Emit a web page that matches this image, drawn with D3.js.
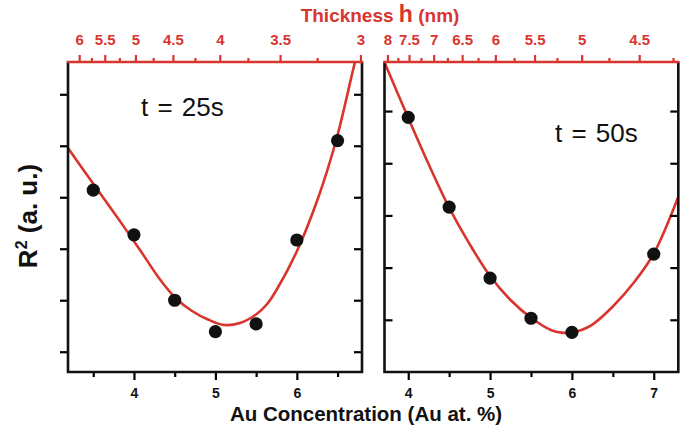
<!DOCTYPE html>
<html><head><meta charset="utf-8">
<script src="https://cdn.jsdelivr.net/npm/d3@7"></script>
<style>body{margin:0;background:#fff}svg{display:block;font-family:"Liberation Sans",Arial,sans-serif}</style>
</head><body><svg id="c" width="685" height="429"></svg>
<script>
// ---- data ----
const concLeft = [3.5, 4, 4.5, 5, 5.5, 6, 6.5];
const r2Left   = [4.14, 3.27, 2.00, 1.39, 1.54, 3.17, 5.10];
const concRight = [4, 4.5, 5, 5.5, 6, 7];
const r2Right   = [4.88, 3.16, 1.80, 1.03, 0.76, 2.26];
const fitLeftX = [3.19, 3.485, 3.779, 4.074, 4.32, 4.516, 4.713, 4.909, 5.106, 5.302, 5.499, 5.63, 5.75, 5.996, 6.261, 6.487, 6.693, 6.751];
const fitLeftY = [4.957, 4.296, 3.646, 2.976, 2.402, 2.033, 1.791, 1.625, 1.519, 1.558, 1.723, 1.917, 2.199, 2.937, 3.986, 5.132, 6.492, 6.86];
const fitRightX = [3.70, 4, 4.25, 4.5, 4.75, 5, 5.25, 5.5, 5.75, 5.875, 6, 6.125, 6.25, 6.5, 6.75, 7, 7.3];
const fitRightY = [5.97, 4.87, 3.98, 3.15, 2.45, 1.84, 1.38, 1.04, 0.80, 0.755, 0.757, 0.81, 0.908, 1.255, 1.70, 2.27, 3.36];
const xMajorLeft = [4, 5, 6], xMinorLeft = [3.5, 4.5, 5.5, 6.5];
const xMajorRight = [4, 5, 6, 7], xMinorRight = [4.5, 5.5, 6.5];
const yTicksLeft = [1, 2, 3, 4, 5, 6], yTicksRight = [1, 2, 3, 4, 5];
const hMajorLeft = [6, 5.5, 5, 4.5, 4, 3.5, 3], hMinorLeft = [5.75, 5.25, 4.75, 4.25, 3.75, 3.25];
const hMajorRight = [8, 7.5, 7, 6.5, 6, 5.5, 5, 4.5], hMinorRight = [7.75, 7.25, 6.75, 6.25, 5.75, 5.25, 4.75, 4.25];
const panelLabels = ["t = 25s", "t = 50s"];
// thickness -> concentration calibration (c = a/h + b)
const hToConcLeft = h => 20.72 / h - 0.126;
const hToConcRight = h => 31.64 / h - 0.209;

const RED = "#d8352e";
const svg = d3.select("#c");
const yTop = 62, yBottom = 372;

const panels = [
  {x0: 68, x1: 362, xd: [3.19, 6.80], yd: [0.606, 6.627], cx: concLeft, cy: r2Left, fx: fitLeftX, fy: fitLeftY,
   xMaj: xMajorLeft, xMin: xMinorLeft, yT: yTicksLeft, hMaj: hMajorLeft, hMin: hMinorLeft, hc: hToConcLeft,
   leftOut: true, label: panelLabels[0], lx: 141, ly: 116},
  {x0: 384.5, x1: 678.3, xd: [3.71, 7.30], yd: [0, 5.94], cx: concRight, cy: r2Right, fx: fitRightX, fy: fitRightY,
   xMaj: xMajorRight, xMin: xMinorRight, yT: yTicksRight, hMaj: hMajorRight, hMin: hMinorRight, hc: hToConcRight,
   leftOut: false, label: panelLabels[1], lx: 555, ly: 142}
];

panels.forEach((p, i) => {
  const x = d3.scaleLinear().domain(p.xd).range([p.x0, p.x1]);
  const y = d3.scaleLinear().domain(p.yd).range([yBottom, yTop]);
  const g = svg.append("g");
  const clipId = "clip" + i;
  svg.append("clipPath").attr("id", clipId).append("rect")
    .attr("x", p.x0).attr("y", yTop).attr("width", p.x1 - p.x0).attr("height", yBottom - yTop);

  // fit curve
  const pts = p.fx.map((v, k) => [v, p.fy[k]]);
  g.append("path").datum(pts).attr("clip-path", `url(#${clipId})`)
    .attr("fill", "none").attr("stroke", RED).attr("stroke-width", 2.6)
    .attr("d", d3.line().x(d => x(d[0])).y(d => y(d[1])).curve(d3.curveCatmullRom.alpha(0.5)));

  // dots
  g.selectAll("circle.pt").data(p.cx.map((v, k) => [v, p.cy[k]])).join("circle")
    .attr("cx", d => x(d[0])).attr("cy", d => y(d[1])).attr("r", 6.6).attr("fill", "#111");

  const styleAx = sel => { sel.select(".domain").remove(); sel.selectAll("line").attr("stroke-width", 2.2); };
  // bottom axis
  g.append("g").attr("transform", `translate(0,${yBottom})`)
    .call(d3.axisBottom(x).tickValues(p.xMaj).tickSize(8).tickPadding(8).tickFormat(d3.format("d")))
    .call(styleAx)
    .call(s => s.selectAll("text").attr("font-size", 14).attr("font-weight", "bold").attr("fill", "#111")
      .attr("font-family", "Liberation Sans, Arial, sans-serif"));
  g.append("g").attr("transform", `translate(0,${yBottom})`)
    .call(d3.axisBottom(x).tickValues(p.xMin).tickSize(5).tickFormat(""))
    .call(styleAx);

  // left / right y ticks
  g.append("g").attr("transform", `translate(${p.x0},0)`)
    .call(d3.axisLeft(y).tickValues(p.yT).tickSize(p.leftOut ? 8 : -8).tickFormat(""))
    .call(styleAx);
  g.append("g").attr("transform", `translate(${p.x1},0)`)
    .call(d3.axisRight(y).tickValues(p.yT).tickSize(-8).tickFormat(""))
    .call(styleAx);

  // top thickness axis
  const hScale = d3.scaleLinear().domain(p.xd).range([p.x0, p.x1]);
  const topAx = g.append("g").attr("transform", `translate(0,${yTop})`);
  topAx.append("g")
    .call(d3.axisTop(hScale).tickValues(p.hMaj.map(p.hc)).tickSize(7).tickPadding(10)
      .tickFormat((d, k) => p.hMaj[k]))
    .call(styleAx)
    .call(s => s.selectAll("line").attr("stroke", RED))
    .call(s => s.selectAll("text").attr("font-size", 15).attr("font-weight", "bold").attr("fill", RED)
      .attr("font-family", "Liberation Sans, Arial, sans-serif"));
  topAx.append("g")
    .call(d3.axisTop(hScale).tickValues(p.hMin.map(p.hc)).tickSize(4).tickFormat(""))
    .call(styleAx)
    .call(s => s.selectAll("line").attr("stroke", RED));

  // frame
  g.append("path").attr("fill", "none").attr("stroke", "#111").attr("stroke-width", 2.6)
    .attr("d", `M${p.x0},${yTop}V${yBottom}H${p.x1}V${yTop}`);
  g.append("line").attr("x1", p.x0 - 1.3).attr("x2", p.x1 + 1.3).attr("y1", yTop).attr("y2", yTop)
    .attr("stroke", RED).attr("stroke-width", 2.6);

  // panel label
  svg.append("text").attr("x", p.lx).attr("y", p.ly).attr("font-size", 26).attr("word-spacing", 2)
    .attr("fill", "#111").text(p.label);
});

// axis titles
svg.append("text").attr("x", 366).attr("y", 421).attr("text-anchor", "middle")
  .attr("font-size", 20.5).attr("font-weight", "bold").attr("fill", "#111")
  .text("Au Concentration (Au at. %)");

const tt = svg.append("text").attr("x", 380).attr("y", 22).attr("text-anchor", "middle")
  .attr("font-weight", "bold").attr("fill", RED).attr("font-size", 19);
tt.append("tspan").text("Thickness ");
tt.append("tspan").attr("font-size", 23).text("h");
tt.append("tspan").text(" (nm)");

const yl = svg.append("text").attr("transform", "translate(37,216) rotate(-90)").attr("text-anchor", "middle")
  .attr("font-weight", "bold").attr("fill", "#111").attr("font-size", 26);
yl.append("tspan").text("R");
yl.append("tspan").attr("font-size", 16).attr("dy", -10).text("2");
yl.append("tspan").attr("dy", 10).text(" (a. u.)");
</script></body></html>
